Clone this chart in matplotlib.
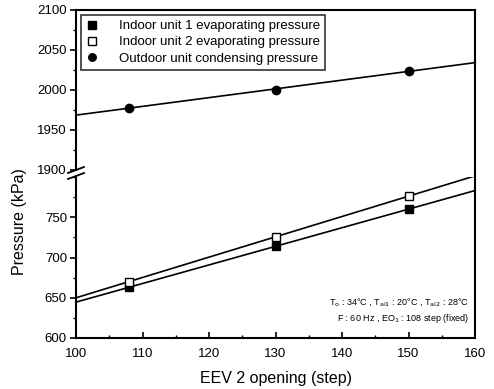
import numpy as np
import matplotlib
matplotlib.use("Agg")
import matplotlib.pyplot as plt
from matplotlib.ticker import MultipleLocator

plt.rcParams['font.family'] = ['Liberation Sans', 'DejaVu Sans']

x_steps = [108, 130, 150]
indoor1 = [663, 714, 760]
indoor2 = [670, 726, 776]
outdoor = [1978, 2000, 2024]
labels = ["Indoor unit 1 evaporating pressure",
          "Indoor unit 2 evaporating pressure",
          "Outdoor unit condensing pressure"]

fig = plt.figure(figsize=(4.94, 3.89), dpi=100)
L, W = 76/494, 399/494
ax_top = fig.add_axes([L, 219/389, W, 160/389])
ax_bot = fig.add_axes([L, 51/389, W, 161/389])

xfit = np.array([100, 160])

def fitline(ax, xs, ys):
    p = np.polyfit(xs, ys, 1)
    ax.plot(xfit, np.polyval(p, xfit), color='black', lw=1.2, zorder=2)

fitline(ax_bot, x_steps, indoor1)
fitline(ax_bot, x_steps, indoor2)
fitline(ax_top, x_steps, outdoor)

h1, = ax_bot.plot(x_steps, indoor1, 's', color='black', ms=6, mec='black', zorder=3)
h2, = ax_bot.plot(x_steps, indoor2, 's', color='black', mfc='white', mec='black', ms=6, mew=1.0, zorder=3)
h3, = ax_top.plot(x_steps, outdoor, 'o', color='black', ms=6, zorder=3)

for ax in (ax_top, ax_bot):
    ax.set_xlim(100, 160)
    ax.xaxis.set_major_locator(MultipleLocator(10))
    ax.xaxis.set_minor_locator(MultipleLocator(5))
    ax.yaxis.set_major_locator(MultipleLocator(50))
    ax.yaxis.set_minor_locator(MultipleLocator(25))
    for s in ax.spines.values():
        s.set_linewidth(1.5)
    ax.tick_params(axis='y', which='major', direction='out', length=4, width=1.2, labelsize=9.5, pad=2.5)
    ax.tick_params(axis='y', which='minor', direction='out', length=2.5, width=1.0)
    ax.tick_params(axis='x', which='major', direction='in', length=4, width=1.2, labelsize=9.5, top=False, pad=7)
    ax.tick_params(axis='x', which='minor', direction='in', length=2.5, width=1.0, top=False)

ax_top.set_ylim(1900, 2100)
ax_bot.set_ylim(600, 800)
ax_top.spines['bottom'].set_visible(False)
ax_bot.spines['top'].set_visible(False)
ax_top.tick_params(axis='x', which='both', bottom=False, labelbottom=False)
ax_top.set_yticks([1900, 1950, 2000, 2050, 2100])
ax_bot.set_yticks([600, 650, 700, 750])

# continuous right spine across the gap
fig.add_artist(plt.Line2D([L+W, L+W], [212/389, 219/389], color='black', lw=1.5))
# break marks on left spine
for yy in (219/389, 213/389):
    fig.add_artist(plt.Line2D([L-8/494, L+8/494], [yy-3/389, yy+3/389], color='black', lw=1.3))

leg = ax_top.legend([h1, h2, h3], labels, loc='upper left', bbox_to_anchor=(0.0, 1.0),
                    fontsize=9.5, frameon=True, fancybox=False, edgecolor='black',
                    handlelength=1.0, handletextpad=1.5, borderpad=0.4, labelspacing=0.3,
                    markerscale=0.9, borderaxespad=0.35)
leg.get_frame().set_linewidth(1.2)

ax_bot.text(0.985, 0.17,
            r"T$_{\rm o}$ : 34°C , T$_{\rm ai1}$ : 20°C , T$_{\rm ai2}$ : 28°C" + "\n" +
            r"F : 60 Hz , EO$_{\rm 1}$ : 108 step (fixed)",
            transform=ax_bot.transAxes, ha='right', va='center', fontsize=6.5,
            linespacing=1.4)

ax_bot.set_xlabel("EEV 2 opening (step)", fontsize=11.5, labelpad=8)
fig.text(0.04, 0.43, "Pressure (kPa)", rotation=90, ha='center', va='center', fontsize=11.5)

fig.savefig("out.png", dpi=100)
